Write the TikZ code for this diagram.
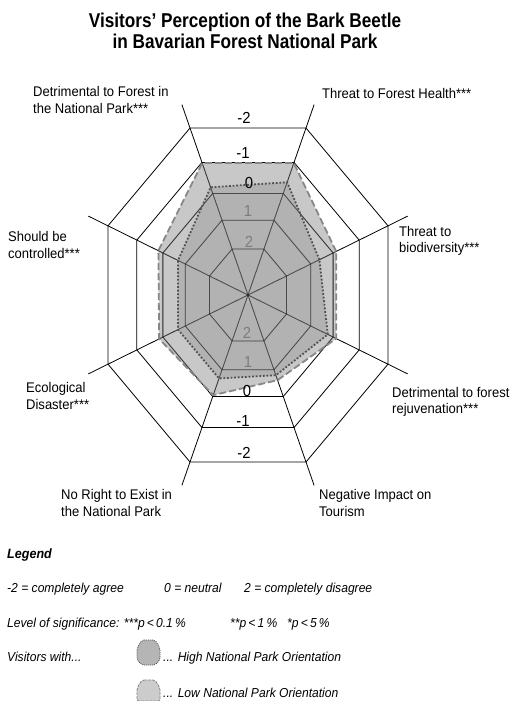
\documentclass[tikz,border=0pt]{standalone}
\usepackage{fontspec}
\setmainfont{Liberation Sans}[FakeStretch=0.93]
\newfontfamily\titlefont{Liberation Sans}[FakeStretch=0.86]
\usepackage{tikz}
\usetikzlibrary{positioning}

\definecolor{areagray}{RGB}{163,163,163}
\definecolor{dashgray}{RGB}{135,135,135}
\definecolor{dotgray}{RGB}{80,80,80}
\definecolor{numgray}{RGB}{125,125,125}

\tikzset{
  grid/.style={black,line width=0.8pt},
  lbl/.style={anchor=west,align=left,inner sep=0pt,font=\fontsize{14}{16.5}\selectfont},
  num/.style={inner sep=0pt,font=\fontsize{16}{16}\selectfont},
  leg/.style={anchor=base west,inner sep=0pt,font=\fontsize{13}{16}\selectfont\itshape},
  area/.style={fill=areagray,fill opacity=0.6},
  lowline/.style={dashgray,line width=1.8pt,dash pattern=on 7pt off 3pt},
  highline/.style={dotgray,line width=1.8pt,dash pattern=on 1.8pt off 1.8pt},
}

\begin{document}
\begin{tikzpicture}[x=1pt,y=-1pt]
\useasboundingbox (0,0) rectangle (511,701);

% title
\draw (245,31) node[align=center,inner sep=0pt,font=\titlefont\bfseries\fontsize{20}{21}\selectfont] (title)
  {Visitors’ Perception of the Bark Beetle\\in Bavarian Forest National Park};

\begin{scope}[shift={(248,295)}]
\begin{scope}[x=140pt,y=167pt]
% octagons, -2 .. 2
\foreach \f [evaluate=\f as \r using \f*1.0824] in {1,0.794,0.608,0.448,0.275}
  \draw[grid] (22.5:\r) \foreach \a in {67.5,112.5,...,337.5} {-- (\a:\r)} -- cycle;
% spokes
\foreach \a in {22.5,67.5,...,337.5}
  \draw[grid] (0,0) -- (\a:1.234);

% low national park orientation
\fill[area] (22.5:0.682) -- (67.5:0.855) -- (112.5:0.855) -- (157.5:0.693)
  -- (202.5:0.687) -- (247.5:0.649) -- (292.5:0.552) -- (337.5:0.682) -- cycle;
% high national park orientation
\fill[area] (22.5:0.552) -- (67.5:0.731) -- (112.5:0.698) -- (157.5:0.541)
  -- (202.5:0.541) -- (247.5:0.541) -- (292.5:0.520) -- (337.5:0.617) -- cycle;

% grid seen through the areas
\begin{scope}
\clip (22.5:0.682) -- (67.5:0.855) -- (112.5:0.855) -- (157.5:0.693)
  -- (202.5:0.687) -- (247.5:0.649) -- (292.5:0.552) -- (337.5:0.682) -- cycle;
\foreach \f [evaluate=\f as \r using \f*1.0824] in {0.794,0.608,0.448,0.275}
  \draw[grid,draw opacity=0.45] (22.5:\r) \foreach \a in {67.5,112.5,...,337.5} {-- (\a:\r)} -- cycle;
\foreach \a in {22.5,67.5,...,337.5}
  \draw[grid,draw opacity=0.45] (0,0) -- (\a:1.234);
\end{scope}

\draw[lowline] (22.5:0.682) -- (67.5:0.855) -- (112.5:0.855) -- (157.5:0.693)
  -- (202.5:0.687) -- (247.5:0.649) -- (292.5:0.552) -- (337.5:0.682) -- cycle;
\draw[highline] (22.5:0.552) -- (67.5:0.731) -- (112.5:0.698) -- (157.5:0.541)
  -- (202.5:0.541) -- (247.5:0.541) -- (292.5:0.520) -- (337.5:0.617) -- cycle;
\end{scope}
\end{scope}

% scale values
\draw (244,118) node[num] (tm2) {-2};
\draw (243,153) node[num] (tm1) {-1};
\draw (249,183) node[num] (tz) {0};
\draw (248,211) node[num,numgray] (tp1) {1};
\draw (249,242) node[num,numgray] (tp2) {2};
\draw (247,333) node[num,numgray] (bp2) {2};
\draw (248,362) node[num,numgray] (bp1) {1};
\draw (247,391) node[num] (bz) {0};
\draw (243,421) node[num] (bm1) {-1};
\draw (244,453) node[num] (bm2) {-2};

% items
\draw (33,100) node[lbl] (detforest) {Detrimental to Forest in\\the National Park***};
\draw (322,93) node[lbl] (health) {Threat to Forest Health***};
\draw (399,241) node[lbl] (biodiv) {Threat to\\biodiversity***};
\draw (392,402) node[lbl] (rejuv) {Detrimental to forest\\rejuvenation***};
\draw (319,503) node[lbl] (tourism) {Negative Impact on\\Tourism};
\draw (61,503) node[lbl] (noright) {No Right to Exist in\\the National Park};
\draw (26,396) node[lbl] (disaster) {Ecological\\Disaster***};
\draw (8,245) node[lbl] (control) {Should be\\controlled***};

% legend
\draw (7,558) node[leg,font=\fontsize{13.5}{16}\selectfont\bfseries\itshape] (legend) {Legend};
\draw (7,592) node[leg] (agree) {-2 = completely agree};
\draw (164,592) node[leg] (neutral) {0 = neutral};
\draw (244,592) node[leg] (disagree) {2 = completely disagree};
\draw (7,627) node[leg] (signif) {Level of significance: ***p\,<\,0.1\,\%};
\draw (230,627) node[leg] (signif2) {**p\,<\,1\,\%};
\draw (287,627) node[leg] (signif3) {*p\,<\,5\,\%};
\draw (7,661) node[leg] (visitors) {Visitors with...};

\filldraw[fill=areagray!80,draw=dotgray,line width=0.8pt,dash pattern=on 1pt off 1pt,rounded corners=2pt]
  (142,640) -- (155,640) -- (160,648) -- (160,660) -- (155,665) -- (142,665) -- (137,660) -- (137,648) -- cycle;
\draw (163,661) node[leg] (high) {... High National Park Orientation};
\filldraw[fill=areagray!55,draw=dashgray,line width=0.8pt,dash pattern=on 3pt off 1pt,rounded corners=2pt]
  (142,680) -- (155,680) -- (160,688) -- (160,701) -- (137,701) -- (137,688) -- cycle;
\draw (163,697) node[leg] (low) {... Low National Park Orientation};
\end{tikzpicture}
\end{document}
